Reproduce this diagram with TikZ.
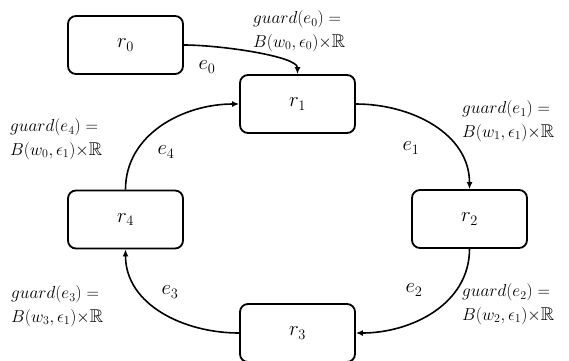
\documentclass[tikz,border=0pt]{standalone}
\usepackage{amssymb}
\usetikzlibrary{arrows.meta}
\begin{document}
\begin{tikzpicture}[x=1pt,y=-1pt,
  region/.style={draw,line width=1.8pt,rounded corners=8pt,minimum width=115pt,minimum height=58pt,inner sep=0pt,font=\fontsize{22}{26}\selectfont},
  trans/.style={line width=1.6pt,-{Latex[length=7pt,width=6pt]}},
  guardlbl/.style={align=left,anchor=west,inner sep=0pt,font=\fontsize{18.5}{23.5}\selectfont},
  elbl/.style={inner sep=0pt,font=\fontsize{22}{26}\selectfont}]
\useasboundingbox (0,0) rectangle (569,360);
\node[region] (r0) at (125.5,45) {$r_0$};
\node[region] (r1) at (297.5,104) {$r_1$};
\node[region] (r2) at (469.5,219) {$r_2$};
\node[region] (r3) at (297.5,333) {$r_3$};
\node[region] (r4) at (125.5,219.5) {$r_4$};
\draw[trans] (r0.east) .. controls +(36,0) and +(0,-18) .. (r1.north);
\draw[trans] (r1.east) to[out=0,in=90] (r2.north);
\draw[trans] (r2.south) to[out=-90,in=0] (r3.east);
\draw[trans] (r3.west) to[out=180,in=-90] (r4.south);
\draw[trans] (r4.north) to[out=90,in=180] (r1.west);
\node[elbl] (l0) at (207,67) {$e_0$};
\node[elbl] (l1) at (411,148) {$e_1$};
\node[elbl] (l2) at (414,290) {$e_2$};
\node[elbl] (l3) at (170,292) {$e_3$};
\node[elbl] (l4) at (166,152) {$e_4$};
\node[guardlbl] (g0) at (253,31) {$guard(e_0) =$\\$B(w_0,\epsilon_0){\times}\mathbb{R}$};
\node[guardlbl] (g1) at (462,121) {$guard(e_1) =$\\$B(w_1,\epsilon_1){\times}\mathbb{R}$};
\node[guardlbl] (g4) at (10,139) {$guard(e_4) =$\\$B(w_0,\epsilon_1){\times}\mathbb{R}$};
\node[guardlbl] (g3) at (11,306) {$guard(e_3) =$\\$B(w_3,\epsilon_1){\times}\mathbb{R}$};
\node[guardlbl] (g2) at (462,304) {$guard(e_2) =$\\$B(w_2,\epsilon_1){\times}\mathbb{R}$};
\end{tikzpicture}
\end{document}
